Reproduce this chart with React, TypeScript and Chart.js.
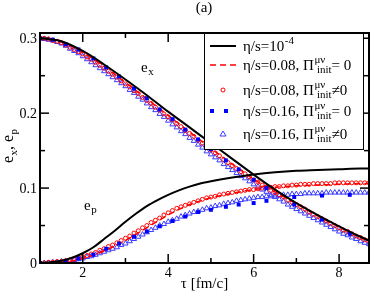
import React, { useEffect, useRef } from 'react';
import { Chart, registerables } from 'chart.js';

Chart.register(...registerables);

// ---------- data ----------
const tauLine = [1.0, 1.5, 2.0, 2.5, 3.0, 3.5, 4.0, 4.5, 5.0, 5.5, 6.0, 6.5, 7.0, 7.5, 8.0, 8.5, 8.7];
const idealEx = [0.300, 0.296, 0.283, 0.265, 0.245, 0.224, 0.202, 0.181, 0.160, 0.139, 0.118, 0.098, 0.080, 0.064, 0.049, 0.035, 0.030];
const tauIdealEp = [1.0, 1.25, 1.5, 1.75, 2.0, 2.25, 2.5, 2.75, 3.0, 3.25, 3.5, 3.75, 4.0, 4.25, 4.5, 4.75, 5.0, 5.5, 6.0, 6.5, 7.0, 7.5, 8.0, 8.5, 8.7];
const idealEp = [0.000, 0.001, 0.003, 0.007, 0.013, 0.021, 0.032, 0.043, 0.055, 0.066, 0.076, 0.084, 0.091, 0.097, 0.102, 0.106, 0.109, 0.114, 0.118, 0.121, 0.123, 0.124, 0.125, 0.126, 0.126];
const visc008Ex = [0.300, 0.295, 0.281, 0.262, 0.241, 0.219, 0.197, 0.175, 0.153, 0.132, 0.112, 0.095, 0.079, 0.063, 0.048, 0.034, 0.029];
const visc008Ep = [0.000, 0.001, 0.006, 0.016, 0.030, 0.047, 0.064, 0.078, 0.087, 0.093, 0.098, 0.101, 0.103, 0.104, 0.105, 0.106, 0.106];

const tauMark = [
  1.0, 1.1, 1.2, 1.3, 1.4, 1.5, 1.6, 1.7, 1.8, 1.9,
  2.0, 2.1, 2.2, 2.3, 2.4, 2.5, 2.6, 2.7, 2.8, 2.9,
  3.0, 3.1, 3.2, 3.3, 3.4, 3.5, 3.6, 3.7, 3.8, 3.9,
  4.0, 4.1, 4.2, 4.3, 4.4, 4.5, 4.6, 4.7, 4.8, 4.9,
  5.0, 5.1, 5.2, 5.3, 5.4, 5.5, 5.6, 5.7, 5.8, 5.9,
  6.0, 6.1, 6.2, 6.3, 6.4, 6.5, 6.6, 6.7, 6.8, 6.9,
  7.0, 7.1, 7.2, 7.3, 7.4, 7.5, 7.6, 7.7, 7.8, 7.9,
  8.0, 8.1, 8.2, 8.3, 8.4, 8.5, 8.6, 8.7,
];
const circ008Ex = [
  0.300, 0.300, 0.299, 0.297, 0.296, 0.294, 0.291, 0.288, 0.285, 0.282,
  0.279, 0.275, 0.272, 0.268, 0.264, 0.260, 0.256, 0.252, 0.248, 0.243,
  0.239, 0.235, 0.230, 0.226, 0.221, 0.217, 0.213, 0.208, 0.204, 0.199,
  0.195, 0.191, 0.186, 0.182, 0.177, 0.173, 0.169, 0.164, 0.160, 0.155,
  0.151, 0.147, 0.143, 0.138, 0.134, 0.130, 0.126, 0.122, 0.119, 0.115,
  0.111, 0.108, 0.104, 0.101, 0.097, 0.094, 0.091, 0.088, 0.084, 0.081,
  0.078, 0.075, 0.072, 0.068, 0.065, 0.062, 0.059, 0.056, 0.053, 0.050,
  0.047, 0.044, 0.042, 0.039, 0.036, 0.034, 0.031, 0.029,
];
const circ008Ep = [
  0.000, 0.000, 0.001, 0.001, 0.002, 0.002, 0.003, 0.004, 0.005, 0.007,
  0.008, 0.010, 0.012, 0.014, 0.017, 0.019, 0.022, 0.024, 0.027, 0.030,
  0.033, 0.036, 0.040, 0.043, 0.047, 0.050, 0.054, 0.057, 0.060, 0.064,
  0.067, 0.070, 0.073, 0.075, 0.077, 0.079, 0.081, 0.083, 0.085, 0.087,
  0.088, 0.089, 0.091, 0.092, 0.093, 0.094, 0.095, 0.096, 0.097, 0.098,
  0.098, 0.099, 0.100, 0.101, 0.101, 0.102, 0.102, 0.103, 0.103, 0.104,
  0.104, 0.105, 0.105, 0.105, 0.106, 0.106, 0.106, 0.106, 0.106, 0.107,
  0.107, 0.107, 0.107, 0.107, 0.107, 0.107, 0.107, 0.107,
];
const tri016Ex = [
  0.300, 0.299, 0.298, 0.297, 0.295, 0.293, 0.290, 0.286, 0.283, 0.280,
  0.276, 0.272, 0.268, 0.264, 0.260, 0.256, 0.252, 0.248, 0.244, 0.240,
  0.236, 0.231, 0.227, 0.222, 0.218, 0.213, 0.208, 0.204, 0.199, 0.195,
  0.190, 0.185, 0.181, 0.176, 0.172, 0.167, 0.163, 0.158, 0.154, 0.149,
  0.145, 0.141, 0.137, 0.132, 0.128, 0.124, 0.120, 0.116, 0.113, 0.109,
  0.105, 0.102, 0.098, 0.095, 0.091, 0.088, 0.085, 0.082, 0.078, 0.075,
  0.072, 0.069, 0.066, 0.063, 0.060, 0.057, 0.054, 0.051, 0.048, 0.045,
  0.042, 0.039, 0.037, 0.034, 0.032, 0.029, 0.027, 0.025,
];
const tri016Ep = [
  0.000, 0.000, 0.000, 0.001, 0.001, 0.002, 0.002, 0.003, 0.004, 0.005,
  0.006, 0.008, 0.009, 0.011, 0.013, 0.015, 0.017, 0.019, 0.021, 0.024,
  0.026, 0.029, 0.032, 0.035, 0.038, 0.041, 0.044, 0.047, 0.050, 0.052,
  0.055, 0.057, 0.059, 0.062, 0.064, 0.066, 0.068, 0.069, 0.071, 0.073,
  0.074, 0.076, 0.077, 0.079, 0.080, 0.081, 0.083, 0.084, 0.085, 0.086,
  0.087, 0.088, 0.088, 0.089, 0.089, 0.090, 0.090, 0.091, 0.091, 0.092,
  0.092, 0.092, 0.093, 0.093, 0.093, 0.093, 0.093, 0.094, 0.094, 0.094,
  0.094, 0.094, 0.094, 0.094, 0.094, 0.094, 0.094, 0.094,
];

const tauSq = [1.0, 1.3, 1.6, 1.9, 2.25, 2.55, 2.85, 3.2, 3.5, 3.8, 4.1, 4.4, 4.7, 5.0, 5.35, 5.65, 6.0, 6.3, 6.95, 7.6, 8.25];
const sq016Ex = [0.300, 0.298, 0.292, 0.285, 0.273, 0.261, 0.249, 0.233, 0.220, 0.205, 0.192, 0.178, 0.165, 0.152, 0.137, 0.125, 0.111, 0.100, 0.078, 0.058, 0.039];
const sq016Ep = [0.000, 0.000, 0.002, 0.006, 0.011, 0.019, 0.026, 0.035, 0.042, 0.049, 0.056, 0.062, 0.068, 0.071, 0.075, 0.078, 0.080, 0.083, 0.088, 0.090, 0.091];

const xMajor = [2, 4, 6, 8];
const xMinor = [3, 5, 7];
const yMajor = [0, 0.1, 0.2, 0.3];
const yMajorLabels = ['0', '0.1', '0.2', '0.3'];
const yMinor = [0.05, 0.15, 0.25];

const X_MIN = 1;
const X_MAX = 8.7;
const Y_MIN = 0;
const Y_MAX = 0.307;

// ---------- helpers ----------
const SERIF = '"Liberation Serif", "Times New Roman", serif';
const RED = '#ff0000';
const BLUE = '#0000ff';
const TRI = '#3a3aff';

const pts = (xs: number[], ys: number[]) => xs.map((x, i) => ({ x, y: ys[i] }));

type Seg = { t: string; sup?: string; sub?: string };

function drawRich(ctx: CanvasRenderingContext2D, x: number, y: number, segs: Seg[], size: number, small: number, measureOnly = false): number {
  let cx = x;
  for (const s of segs) {
    ctx.font = `${size}px ${SERIF}`;
    if (!measureOnly) ctx.fillText(s.t, cx, y);
    cx += ctx.measureText(s.t).width;
    ctx.font = `${small}px ${SERIF}`;
    let w = 0;
    if (s.sup) {
      if (!measureOnly) ctx.fillText(s.sup, cx + 0.5, y - size * 0.5);
      w = Math.max(w, ctx.measureText(s.sup).width + 0.5);
    }
    if (s.sub) {
      if (!measureOnly) ctx.fillText(s.sub, cx + (s.sup ? 3 : 0.5), y + size * 0.22);
      w = Math.max(w, ctx.measureText(s.sub).width + (s.sup ? 3 : 0.5));
    }
    cx += w;
  }
  return cx - x;
}

const legendRows: { segs: Seg[]; base: number }[] = [
  { segs: [{ t: 'η/s=10', sup: '-4' }], base: 51 },
  { segs: [{ t: 'η/s=0.08, Π', sup: 'μν', sub: 'init' }, { t: '= 0' }], base: 70 },
  { segs: [{ t: 'η/s=0.08, Π', sup: 'μν', sub: 'init' }, { t: '≠0' }], base: 95 },
  { segs: [{ t: 'η/s=0.16, Π', sup: 'μν', sub: 'init' }, { t: '= 0' }], base: 116 },
  { segs: [{ t: 'η/s=0.16, Π', sup: 'μν', sub: 'init' }, { t: '≠0' }], base: 139 },
];

const decor = {
  id: 'decor',
  afterDatasetsDraw(chart: any) {
    const ctx: CanvasRenderingContext2D = chart.ctx;
    const a = chart.chartArea;
    const xs = chart.scales.x;
    const ys = chart.scales.y;
    ctx.save();
    ctx.strokeStyle = '#000';
    ctx.fillStyle = '#000';
    const seg = (x1: number, y1: number, x2: number, y2: number) => {
      ctx.beginPath();
      ctx.moveTo(x1, y1);
      ctx.lineTo(x2, y2);
      ctx.stroke();
    };
    ctx.lineWidth = 1.5;
    xMajor.forEach((v) => {
      const p = xs.getPixelForValue(v);
      seg(p, a.bottom, p, a.bottom - 9);
      seg(p, a.top, p, a.top + 9);
    });
    xMinor.forEach((v) => {
      const p = xs.getPixelForValue(v);
      seg(p, a.bottom, p, a.bottom - 5);
      seg(p, a.top, p, a.top + 5);
    });
    yMajor.forEach((v) => {
      const p = ys.getPixelForValue(v);
      seg(a.left, p, a.left + 9, p);
      seg(a.right, p, a.right - 9, p);
    });
    yMinor.forEach((v) => {
      const p = ys.getPixelForValue(v);
      seg(a.left, p, a.left + 5, p);
      seg(a.right, p, a.right - 5, p);
    });
    ctx.lineWidth = 2;
    ctx.strokeRect(a.left, a.top, a.right - a.left, a.bottom - a.top);

    // tick labels
    ctx.font = `14px ${SERIF}`;
    ctx.textAlign = 'center';
    ctx.textBaseline = 'alphabetic';
    xMajor.forEach((v) => ctx.fillText(String(v), xs.getPixelForValue(v), 277));
    ctx.textAlign = 'right';
    ctx.textBaseline = 'middle';
    yMajor.forEach((v, i) => ctx.fillText(yMajorLabels[i], a.left - 3, ys.getPixelForValue(v) + 1));
    ctx.textAlign = 'left';
    ctx.textBaseline = 'alphabetic';

    // titles
    ctx.font = `15px ${SERIF}`;
    ctx.textAlign = 'center';
    ctx.fillText('(a)', 204, 12);
    ctx.fillText('τ [fm/c]', (a.left + a.right) / 2, 288);
    ctx.textAlign = 'left';

    // y-axis title (rotated)
    ctx.save();
    ctx.translate(13, 146);
    ctx.rotate(-Math.PI / 2);
    const ySegs: Seg[] = [{ t: 'e', sub: 'x' }, { t: ', e', sub: 'p' }];
    const w = drawRich(ctx, 0, 0, ySegs, 16, 11, true);
    drawRich(ctx, -w / 2, 0, ySegs, 16, 11);
    ctx.restore();

    // in-plot labels
    drawRich(ctx, 141, 72, [{ t: 'e', sub: 'x' }], 15, 11);
    drawRich(ctx, 84, 210, [{ t: 'e', sub: 'p' }], 15, 11);

    // legend box
    const lx = 204, ly = a.top, lw = 159, lh = 116;
    ctx.fillStyle = '#fff';
    ctx.fillRect(lx, ly, lw, lh);
    ctx.lineWidth = 1;
    ctx.strokeStyle = '#000';
    ctx.strokeRect(lx + 0.5, ly + 0.5, lw, lh);
    ctx.fillStyle = '#000';
    legendRows.forEach((r) => drawRich(ctx, 243, r.base, r.segs, 15, 11));

    // legend symbols
    const my = (i: number) => legendRows[i].base - 5;
    ctx.strokeStyle = '#000';
    ctx.lineWidth = 2;
    seg(210, my(0), 236, my(0));
    ctx.strokeStyle = RED;
    ctx.lineWidth = 1.5;
    ctx.setLineDash([6, 4]);
    seg(210, my(1), 236, my(1));
    ctx.setLineDash([]);
    ctx.lineWidth = 1;
    ctx.beginPath();
    ctx.arc(223, my(2), 2, 0, Math.PI * 2);
    ctx.stroke();
    ctx.fillStyle = BLUE;
    [212, 226].forEach((x) => ctx.fillRect(x - 2, my(3) - 2, 4, 4));
    ctx.strokeStyle = TRI;
    ctx.beginPath();
    ctx.moveTo(223, my(4) - 3);
    ctx.lineTo(226, my(4) + 2);
    ctx.lineTo(220, my(4) + 2);
    ctx.closePath();
    ctx.stroke();
    ctx.restore();
  },
};

export default function App() {
  const ref = useRef<HTMLCanvasElement | null>(null);
  useEffect(() => {
    if (!ref.current) return;
    const lineBase = { showLine: true, pointRadius: 0, cubicInterpolationMode: 'monotone' as const, fill: false };
    const markBase = { showLine: false, fill: false };
    const chart = new Chart(ref.current, {
      type: 'scatter',
      data: {
        datasets: [
          { ...lineBase, data: pts(tauLine, idealEx), borderColor: '#000', borderWidth: 2 },
          { ...lineBase, data: pts(tauIdealEp, idealEp), borderColor: '#000', borderWidth: 2 },
          { ...markBase, data: pts(tauSq, sq016Ex), pointStyle: 'rect', pointRadius: 2.8, backgroundColor: BLUE, borderColor: BLUE, borderWidth: 0 },
          { ...markBase, data: pts(tauSq, sq016Ep), pointStyle: 'rect', pointRadius: 2.8, backgroundColor: BLUE, borderColor: BLUE, borderWidth: 0 },
          { ...lineBase, data: pts(tauLine, visc008Ex), borderColor: RED, borderWidth: 1.5, borderDash: [6, 4] },
          { ...lineBase, data: pts(tauLine, visc008Ep), borderColor: RED, borderWidth: 1.5, borderDash: [6, 4] },
          { ...markBase, data: pts(tauMark, circ008Ex), pointStyle: 'circle', pointRadius: 2, backgroundColor: 'rgba(0,0,0,0)', borderColor: RED, borderWidth: 1 },
          { ...markBase, data: pts(tauMark, circ008Ep), pointStyle: 'circle', pointRadius: 2, backgroundColor: 'rgba(0,0,0,0)', borderColor: RED, borderWidth: 1 },
          { ...markBase, data: pts(tauMark, tri016Ex), pointStyle: 'triangle', pointRadius: 3, backgroundColor: 'rgba(0,0,0,0)', borderColor: TRI, borderWidth: 1 },
          { ...markBase, data: pts(tauMark, tri016Ep), pointStyle: 'triangle', pointRadius: 3, backgroundColor: 'rgba(0,0,0,0)', borderColor: TRI, borderWidth: 1 },
        ],
      },
      options: {
        animation: false,
        responsive: false,
        devicePixelRatio: 1,
        layout: { padding: { left: 40, right: 3, top: 33, bottom: 30 } },
        plugins: { legend: { display: false }, tooltip: { enabled: false }, title: { display: false } },
        scales: {
          x: { type: 'linear', min: X_MIN, max: X_MAX, display: false },
          y: { type: 'linear', min: Y_MIN, max: Y_MAX, display: false },
        },
      },
      plugins: [decor],
    });
    return () => chart.destroy();
  }, []);
  return (
    <div style={{ position: 'absolute', left: 0, top: 0, width: 374, height: 293, background: '#fff' }}>
      <canvas ref={ref} width={374} height={293} style={{ display: 'block', width: 374, height: 293 }} />
    </div>
  );
}
